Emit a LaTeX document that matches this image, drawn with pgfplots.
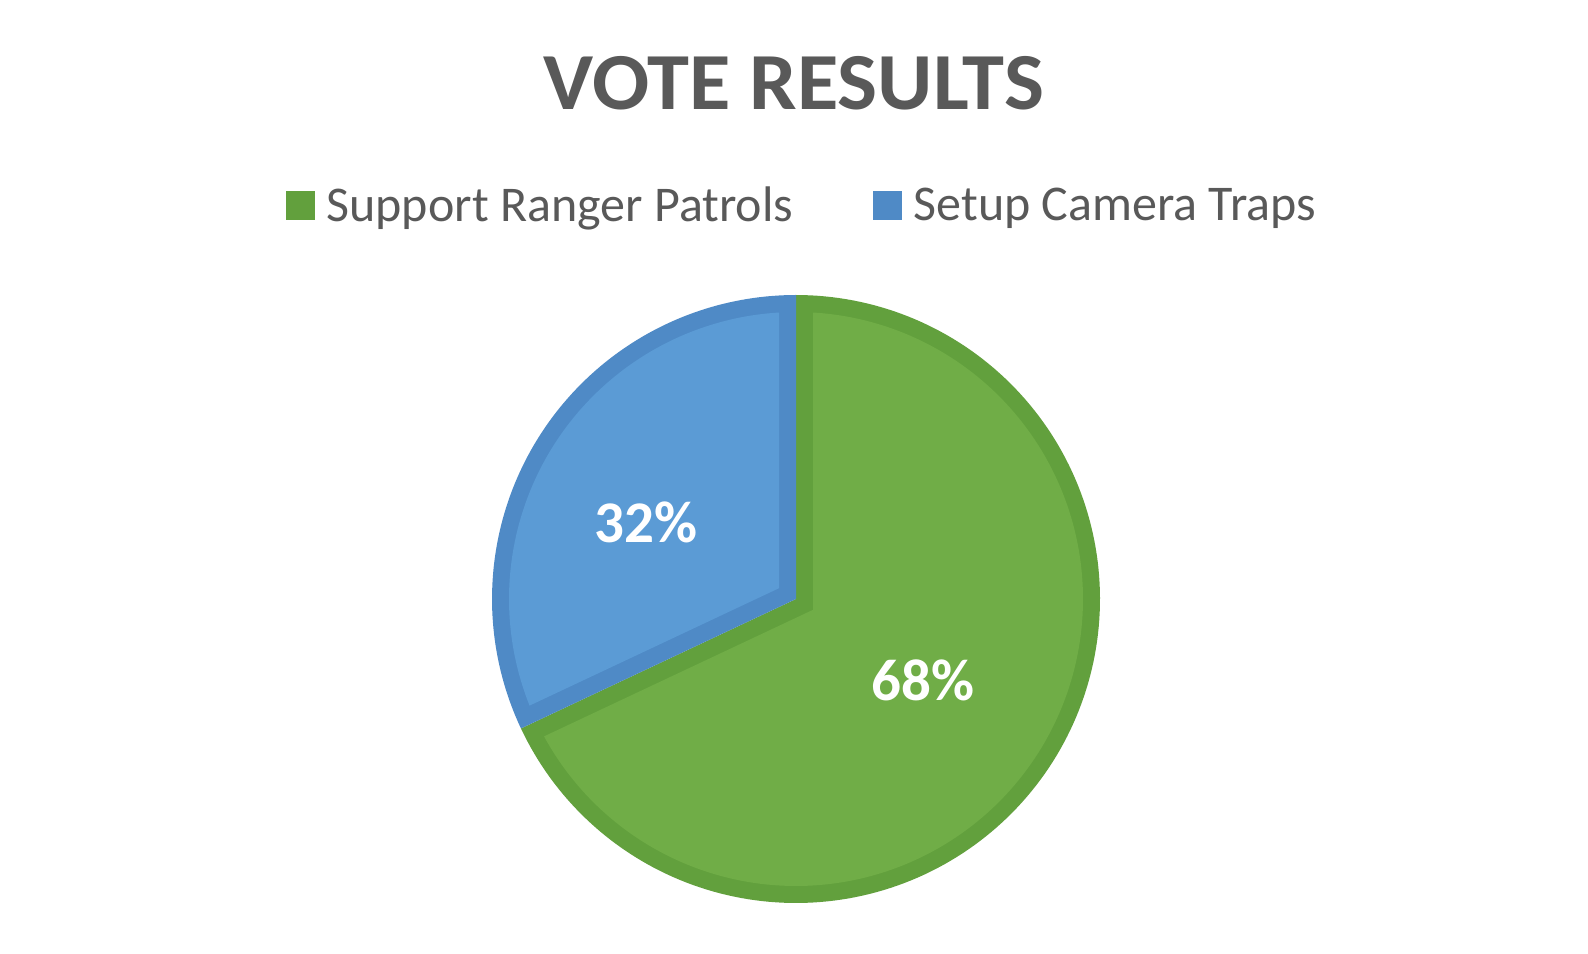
\documentclass[border=0pt]{standalone}
\usepackage{pgfplots}
\pgfplotsset{compat=1.18}
\usepackage{pgfplotstable}
\usepackage{fontspec}
\setmainfont{Carlito}
\definecolor{gfill}{HTML}{70AD47}
\definecolor{gline}{HTML}{62A03D}
\definecolor{bfill}{HTML}{5B9BD5}
\definecolor{bline}{HTML}{4F8AC6}
\definecolor{txt}{HTML}{595959}

\pgfplotstableread{
option value
Support 68
Setup 32
}\votes

\begin{document}
\begin{tikzpicture}
\pgfplotstablegetelem{0}{value}\of\votes \let\vg\pgfplotsretval
\pgfplotstablegetelem{1}{value}\of\votes \let\vb\pgfplotsretval
\pgfmathsetmacro\tot{\vg+\vb}
\pgfmathsetmacro\frac{\vg/\tot}
\pgfmathsetmacro\sang{90-360*\frac}
\pgfmathsetmacro\sangb{\sang+360}
\def\cx{796}\def\cy{354}\def\R{304}\def\bw{17}
\pgfmathsetmacro\rin{\R-\bw}
\pgfmathsetmacro\dl{asin(\bw/\rin)}
\pgfmathsetmacro\gmid{(\sang+90)/2}
\pgfmathsetmacro\bmid{(90+\sangb)/2}
\pgfmathsetmacro\voff{\bw/sin(180*\frac)}
\pgfmathsetmacro\gax{\sang+\dl}
\pgfmathsetmacro\gbx{90-\dl}
\pgfmathsetmacro\bax{90+\dl}
\pgfmathsetmacro\bbx{\sangb-\dl}
\pgfmathsetmacro\gvx{\cx+\voff*cos(\gmid)}
\pgfmathsetmacro\gvy{\cy+\voff*sin(\gmid)}
\pgfmathsetmacro\bvx{\cx+\voff*cos(\bmid)}
\pgfmathsetmacro\bvy{\cy+\voff*sin(\bmid)}
\begin{axis}[
  scale only axis, width=794pt, height=476.5pt,
  xmin=0, xmax=1588, ymin=0, ymax=953,
  hide axis, clip=false,
  legend image code/.code={\fill[#1] (0pt,-7.1pt) rectangle (14.2pt,7.1pt);},
  legend columns=2,
  legend cell align=left,
  legend style={at={(0.5045,0.7844)}, anchor=center, draw=none, fill=none,
    font=\fontsize{25}{30}\selectfont, text=txt,
    nodes={inner sep=0pt},
    /tikz/every odd column/.append style={column sep=6pt},
    /tikz/every even column/.append style={column sep=40pt}},
]
% outer slices (border colour)
\addplot[forget plot, fill=gline, draw=none, domain=\sang:90, samples=181, variable=\t]
  ({\cx+\R*cos(\t)},{\cy+\R*sin(\t)}) -- (\cx,\cy) -- cycle;
\addplot[forget plot, fill=bline, draw=none, domain=90:\sangb, samples=101, variable=\t]
  ({\cx+\R*cos(\t)},{\cy+\R*sin(\t)}) -- (\cx,\cy) -- cycle;
% inner slices (fill colour)
\addplot[forget plot, fill=gfill, draw=none, domain=\gax:\gbx, samples=181, variable=\t]
  ({\cx+\rin*cos(\t)},{\cy+\rin*sin(\t)}) -- (\gvx,\gvy) -- cycle;
\addplot[forget plot, fill=bfill, draw=none, domain=\bax:\bbx, samples=101, variable=\t]
  ({\cx+\rin*cos(\t)},{\cy+\rin*sin(\t)}) -- (\bvx,\bvy) -- cycle;
\addlegendimage{fill=gline, draw=none}
\addlegendentry{Support Ranger Patrols}
\addlegendimage{fill=bline, draw=none}
\addlegendentry{Setup Camera Traps}
\node[font=\fontsize{40.5}{48}\selectfont\bfseries, text=txt, xscale=1.045] at (794,870) {VOTE RESULTS};
\node[font=\fontsize{29.5}{35}\selectfont\bfseries, text=white] at (646,431) {32\%};
\node[font=\fontsize{29.5}{35}\selectfont\bfseries, text=white] at (923,273) {68\%};
\end{axis}
\path (0,0) rectangle (794pt,476.5pt);
\end{tikzpicture}
\end{document}
